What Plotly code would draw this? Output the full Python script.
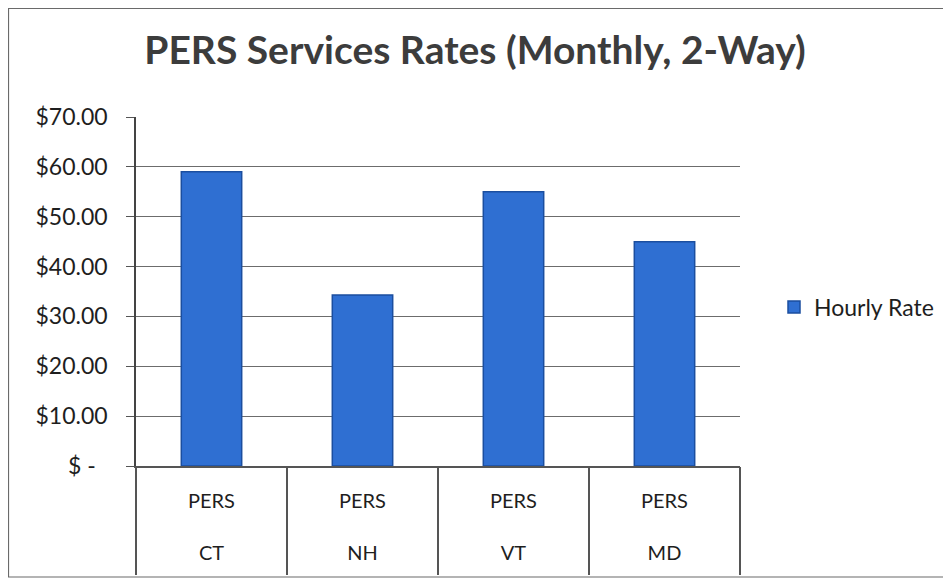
import plotly.graph_objects as go

states = ["CT", "NH", "VT", "MD"]
service = ["PERS", "PERS", "PERS", "PERS"]
rates = [59.0, 34.3, 55.0, 45.0]
series_name = "Hourly Rate"
tick_vals = [0, 10, 20, 30, 40, 50, 60, 70]
tick_text = ["$\u00a0-\u00a0\u00a0", "$10.00", "$20.00", "$30.00", "$40.00", "$50.00", "$60.00", "$70.00"]

FONT = "Lato, Calibri, Carlito, sans-serif"

# page body has an 8px margin; figure coordinates are shifted accordingly
OFF = 8
W, H = 951 - OFF, 582 - OFF
L, R, T, B = 136 - OFF, W - (740 - OFF), 117 - OFF, H - (466 - OFF)
pw, ph = W - L - R, H - T - B

def px_x(p):
    return (p - OFF - L) / pw

def px_y(p):
    return (H - B - (p - OFF)) / ph

cat_labels = [f"{s}<br><br>{st}" for s, st in zip(service, states)]

fig = go.Figure()
fig.add_trace(go.Bar(
    x=states,
    y=rates,
    name=series_name,
    width=0.4,
    marker=dict(color="#2F6FD2", line=dict(color="#1B4E9F", width=1.5)),
    showlegend=True,
))
# invisible companion trace that carries the category-divider axis
fig.add_trace(go.Bar(
    x=states, y=rates, xaxis="x2", width=0.4,
    marker=dict(color="rgba(0,0,0,0)", line=dict(width=0)),
    showlegend=False, hoverinfo="skip",
))

fig.update_layout(
    width=W, height=H,
    margin=dict(l=L, r=R, t=T, b=B),
    paper_bgcolor="white",
    plot_bgcolor="white",
    font=dict(family=FONT, size=20, color="#1e1e1e"),
    title=dict(text="<b>PERS Services Rates (Monthly, 2-Way)</b>",
               font=dict(family=FONT, size=39, color="#3c3c3c"),
               xref="container", x=(475 - OFF) / W, xanchor="center",
               yref="container", y=1 - (50 - OFF) / H, yanchor="middle"),
    showlegend=True,
    legend=dict(x=px_x(774), y=px_y(307), xanchor="left", yanchor="middle",
                font=dict(size=23, color="#1e1e1e"), bgcolor="rgba(0,0,0,0)"),
    shapes=[dict(type="rect", xref="paper", yref="paper",
                 x0=px_x(OFF + 0.5), x1=px_x(944), y0=px_y(577), y1=px_y(OFF + 0.5),
                 line=dict(color="#6a6a6a", width=1.2), fillcolor="rgba(0,0,0,0)", layer="below")],
    xaxis=dict(
        type="category",
        categoryorder="array", categoryarray=states,
        tickvals=states, ticktext=cat_labels,
        tickfont=dict(size=20),
        showline=True, linecolor="#555555", linewidth=1.5,
        ticks="outside", ticklen=16, tickcolor="rgba(0,0,0,0)",
        showgrid=False, automargin=False,
        range=[-0.5, len(states) - 0.5],
    ),
    xaxis2=dict(
        type="category",
        categoryorder="array", categoryarray=states,
        overlaying="x", anchor="y", side="bottom",
        range=[-0.5, len(states) - 0.5],
        tickson="boundaries", showticklabels=False,
        ticks="outside", ticklen=108, tickwidth=1.5, tickcolor="#555555",
        showgrid=False, zeroline=False, showline=False, automargin=False,
    ),
    yaxis=dict(
        range=[0, 70],
        tickvals=tick_vals, ticktext=tick_text,
        showgrid=True, gridcolor="#6c6c6c", gridwidth=1.2,
        showline=True, linecolor="#444444", linewidth=1.5,
        ticks="outside", ticklen=8, tickcolor="#555555",
        ticklabelstandoff=14,
        tickfont=dict(size=23),
        zeroline=False, automargin=False,
    ),
)

fig.write_html("out.html")
